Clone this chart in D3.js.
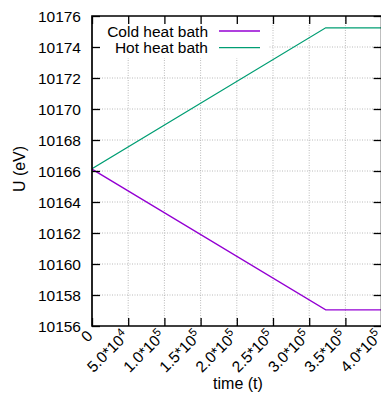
<!DOCTYPE html>
<html><head><meta charset="utf-8">
<script src="https://cdn.jsdelivr.net/npm/d3@7"></script>
<style>
html,body{margin:0;padding:0;background:#fff;overflow:hidden}
text{font-family:"Liberation Sans",Arial,sans-serif;fill:#000}
</style></head>
<body><svg id="c" width="381" height="396"></svg>
<script>
const time = [0, 322800, 420000];
const coldU = [10166.12, 10157.04, 10157.04];
const hotU = [10166.15, 10175.24, 10175.24];
const seriesNames = ["Cold heat bath", "Hot heat bath"];
const seriesColors = ["#9400d3", "#009e73"];
const yTicks = [10156, 10158, 10160, 10162, 10164, 10166, 10168, 10170, 10172, 10174, 10176];
const xTicks = [0, 50000, 100000, 150000, 200000, 250000, 300000, 350000, 400000];
const xTickMant = ["0", "5.0*10", "1.0*10", "1.5*10", "2.0*10", "2.5*10", "3.0*10", "3.5*10", "4.0*10"];
const xTickExp = ["", "4", "5", "5", "5", "5", "5", "5", "5"];

const FS = 15.5;
const svg = d3.select("#c");
const L = 92, T = 16, R = 381.6, B = 326;
const x = d3.scaleLinear().domain([0, 400000]).range([L, R]);
const y = d3.scaleLinear().domain([10156, 10176]).range([B, T]);

const grid = svg.append("g").attr("stroke", "#a8a8a8").attr("stroke-width", 0.8).attr("stroke-dasharray", "1,1.5");
grid.selectAll("line.v").data(xTicks.slice(1)).join("line")
  .attr("x1", d => x(d)).attr("x2", d => x(d)).attr("y1", B).attr("y2", T);
grid.selectAll("line.h").data(yTicks.slice(1, -1)).join("line")
  .attr("x1", L).attr("x2", R).attr("y1", d => y(d)).attr("y2", d => y(d));

svg.append("clipPath").attr("id", "pc").append("rect").attr("x", L).attr("y", T).attr("width", R - L).attr("height", B - T);

// legend background
svg.append("rect").attr("x", L + 1).attr("y", T + 1).attr("width", 175).attr("height", 41).attr("fill", "#fff");

const line = d3.line().x(d => x(d[0])).y(d => y(d[1]));
[coldU, hotU].forEach((s, i) => {
  svg.append("path").datum(time.map((t, j) => [t, s[j]]))
    .attr("d", line).attr("fill", "none").attr("stroke", seriesColors[i])
    .attr("stroke-width", 1.3).attr("clip-path", "url(#pc)");
});

seriesNames.forEach((n, i) => {
  const ly = 31 + i * 16.6;
  svg.append("text").attr("x", 208).attr("y", ly + 5.5).attr("text-anchor", "end")
    .attr("font-size", FS).text(n);
  svg.append("line").attr("x1", 219).attr("x2", 260).attr("y1", ly).attr("y2", ly)
    .attr("stroke", seriesColors[i]).attr("stroke-width", 1.3);
});

const tickLen = 8;
const gL = svg.append("g").attr("transform", `translate(${L},0)`)
  .call(d3.axisRight(y).tickValues(yTicks).tickSize(tickLen).tickFormat(""));
const gR = svg.append("g").attr("transform", `translate(${R},0)`)
  .call(d3.axisLeft(y).tickValues(yTicks).tickSize(tickLen).tickFormat(""));
const gB = svg.append("g").attr("transform", `translate(0,${B})`)
  .call(d3.axisTop(x).tickValues(xTicks).tickSize(tickLen).tickFormat(""));
const gT = svg.append("g").attr("transform", `translate(0,${T})`)
  .call(d3.axisBottom(x).tickValues(xTicks).tickSize(tickLen).tickFormat(""));
[gL, gR, gB, gT].forEach(g => {
  g.select(".domain").remove();
  g.selectAll(".tick line").attr("stroke", "#000").attr("stroke-width", 1.3);
});
svg.append("path").attr("d", `M${R},${T}H${L}V${B}H${R}`).attr("fill", "none")
  .attr("stroke", "#000").attr("stroke-width", 1.7);
svg.append("line").attr("x1", R).attr("x2", R).attr("y1", T).attr("y2", B)
  .attr("stroke", "#000").attr("stroke-width", 1.7);

svg.selectAll("text.yl").data(yTicks).join("text").attr("class", "yl")
  .attr("x", 81).attr("y", d => y(d) + 5.5).attr("text-anchor", "end")
  .attr("font-size", FS).text(d => d);

xTicks.forEach((t, i) => {
  const tx = svg.append("text").attr("text-anchor", "end").attr("font-size", FS)
    .attr("transform", `translate(${x(t) + 1.5},${337}) rotate(-45)`);
  tx.append("tspan").text(xTickMant[i]);
  if (xTickExp[i]) tx.append("tspan").attr("font-size", 11.5).attr("dy", -6).text(xTickExp[i]);
});

svg.append("text").attr("x", 238).attr("y", 389).attr("text-anchor", "middle")
  .attr("font-size", 16).text("time (t)");
svg.append("text").attr("transform", `translate(25,${(T + B) / 2 - 2}) rotate(-90)`)
  .attr("text-anchor", "middle").attr("font-size", 16).text("U (eV)");
</script></body></html>
